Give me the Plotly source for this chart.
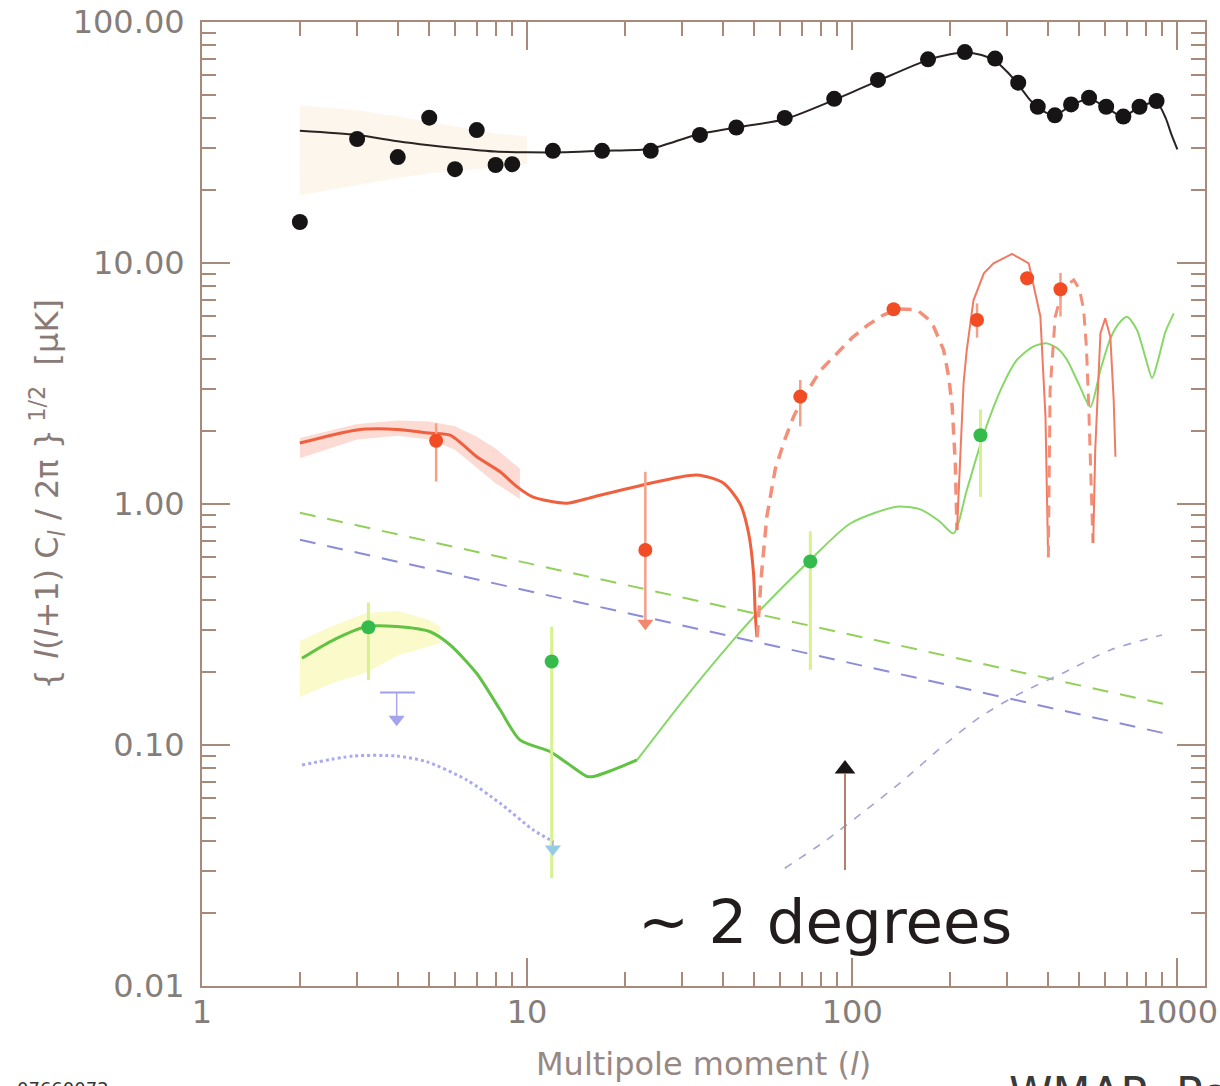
import plotly.graph_objects as go

# ---------------- data ----------------
# TT (black) binned data points
tt_l = [2, 3, 4, 5, 6, 7, 8, 9, 12, 17, 24, 34, 44, 62, 88, 120, 171, 222, 275, 324, 372, 420, 471, 535, 604, 682, 765, 863]
tt_v = [14.8, 32.7, 27.5, 40.1, 24.5, 35.6, 25.5, 25.7, 29.2, 29.2, 29.2, 34.0, 36.5, 40.0, 48.0, 57.5, 70.0, 75.0, 70.5, 56.0, 44.5, 41.0, 45.5, 48.5, 44.5, 40.5, 44.5, 47.0]
# TT model curve
ttm_l = [2, 3, 4, 5, 6, 8, 10, 13, 17, 24, 33, 44, 62, 88, 120, 170, 200, 222, 250, 275, 300, 324, 350, 372, 420, 470, 535, 600, 680, 765, 863, 920, 960, 1000]
ttm_v = [35.4, 34.0, 32.0, 30.8, 30.0, 29.0, 28.8, 28.8, 29.2, 29.8, 34.0, 36.5, 39.5, 47.5, 57.0, 69.5, 73.5, 74.8, 73.0, 69.0, 62.0, 55.0, 48.0, 44.0, 41.0, 45.0, 48.0, 44.5, 40.5, 44.5, 46.5, 40.0, 34.0, 29.6]
# TT cosmic-variance band
ttb_l = [2, 3, 4, 5, 6, 7, 8, 9, 10]
ttb_hi = [45, 43, 40.5, 38.5, 37, 35.5, 34.5, 34, 33.4]
ttb_lo = [19.1, 21, 22.5, 23.5, 24, 24.5, 25, 25.5, 25.8]

# TE (red) model: positive segments (solid) and negative segments (dashed)
te1_l = [2, 3, 4, 5, 5.8, 7, 8.26, 9.3, 10.4, 13.2, 16, 22.7, 33.3, 40.2, 45.2, 48, 49.7, 50.3, 50.9]
te1_v = [1.79, 2.03, 2.04, 1.97, 1.93, 1.57, 1.36, 1.18, 1.07, 1.007, 1.07, 1.2, 1.32, 1.22, 1.0, 0.756, 0.516, 0.352, 0.28]
te2_l = [51, 52.5, 54.6, 58, 62, 66, 70, 80, 88, 100, 111, 125, 140, 158, 170, 178, 191, 198, 203, 205, 207.5, 210]
te2_v = [0.28, 0.5, 0.885, 1.4, 1.85, 2.3, 2.7, 3.6, 4.1, 4.9, 5.5, 6.1, 6.45, 6.4, 5.9, 5.45, 4.35, 3.37, 2.53, 1.9, 1.47, 0.78]
te3_l = [210, 213, 215, 220, 225, 236, 254, 272, 310, 349, 379, 393, 400]
te3_v = [0.78, 1.2, 1.5, 3.17, 4.35, 7.0, 9.06, 9.97, 10.9, 9.97, 6.0, 2.3, 0.64]
te4_l = [401, 403, 406, 421, 445, 480, 500, 515, 525, 533, 542, 550]
te4_v = [0.6, 1.5, 2.97, 5.98, 7.9, 8.5, 7.8, 6.38, 4.5, 2.7, 1.4, 0.69]
te5_l = [551, 559, 580, 600, 622, 637, 645]
te5_v = [0.69, 1.68, 5.12, 5.9, 4.94, 2.7, 1.57]
# TE band (low l)
teb_l = [2, 3, 4, 5, 6, 7, 8, 9.5]
teb_hi = [1.88, 2.15, 2.22, 2.2, 2.1, 1.9, 1.7, 1.4]
teb_lo = [1.55, 1.85, 1.92, 1.85, 1.68, 1.42, 1.22, 1.05]
# TE data points
te_l = [5.25, 23.1, 69.2, 134, 242, 345, 437]
te_v = [1.83, 0.644, 2.79, 6.43, 5.8, 8.64, 7.78]
te_hi = [2.16, 1.36, 3.27, 6.7, 6.8, 9.2, 9.1]
te_lo = [1.24, 0.32, 2.1, 6.2, 4.9, 8.1, 6.0]
te_limit = [False, True, False, False, False, False, False]

# EE (green) model
ee1_l = [2.03, 2.5, 3.21, 3.97, 5.03, 5.8, 7.0, 8.26, 9.5, 11.8, 13.3, 15.3, 16, 18, 21.8]
ee1_v = [0.229, 0.27, 0.31, 0.31, 0.295, 0.26, 0.198, 0.14, 0.105, 0.0937, 0.084, 0.074, 0.074, 0.078, 0.0867]
ee2_l = [21.8, 30.3, 43.1, 52.1, 74.3, 98.6, 137, 162, 185, 205, 225, 254, 290, 321, 360, 397, 430, 458, 500, 540, 580, 620, 660, 700, 750, 800, 836, 870, 920, 975]
ee2_v = [0.0867, 0.154, 0.273, 0.363, 0.586, 0.83, 0.975, 0.95, 0.85, 0.755, 1.14, 1.96, 3.1, 3.96, 4.5, 4.64, 4.4, 3.96, 3.1, 2.53, 3.6, 4.8, 5.6, 5.98, 5.3, 4.0, 3.33, 3.9, 5.2, 6.18]
# EE band (low l)
eeb_l = [2, 2.5, 3.2, 4, 5, 5.4]
eeb_hi = [0.27, 0.31, 0.353, 0.36, 0.33, 0.31]
eeb_lo = [0.158, 0.18, 0.2, 0.235, 0.257, 0.265]
# EE data points
ee_l = [3.25, 11.9, 74.3, 248]
ee_v = [0.308, 0.222, 0.577, 1.93]
ee_hi = [0.39, 0.31, 0.77, 2.47]
ee_lo = [0.186, 0.028, 0.205, 1.07]

# foreground (dashed) lines
fg_green_l = [2, 908]
fg_green_v = [0.92, 0.148]
fg_blue_l = [2, 908]
fg_blue_v = [0.71, 0.112]
# rising dotted-dashed line
noise_l = [62, 82, 110, 144, 189, 248, 329, 452, 622, 897]
noise_v = [0.0308, 0.0397, 0.0537, 0.0716, 0.0985, 0.131, 0.164, 0.201, 0.248, 0.286]
# BB (blue) low-l curve
bb_l = [2.03, 2.92, 3.97, 4.91, 6.52, 8.26, 10.45, 12.05]
bb_v = [0.0826, 0.09, 0.09, 0.0853, 0.0716, 0.0573, 0.0444, 0.0397]
# BB upper limits
bblim_bar_l = [3.53, 4.52]
bblim_bar_v = [0.165, 0.165]
bblim_l = [3.97, 12.0]
bblim_top = [0.165, 0.040]
bblim_v = [0.128, 0.037]

# "~2 degrees" arrow
arrow_l = [95, 95]
arrow_v = [0.0303, 0.076]
arrow_head = [0.0795]

# ---------------- figure ----------------
fig = go.Figure()

def line(x, y, color, width, dash="solid", shape="linear"):
    fig.add_trace(go.Scatter(x=x, y=y, mode="lines",
                             line=dict(color=color, width=width, dash=dash, shape=shape, smoothing=0.7),
                             hoverinfo="skip", showlegend=False))

def band(x, lo, hi, color):
    fig.add_trace(go.Scatter(x=x, y=lo, mode="lines", line=dict(width=0), showlegend=False, hoverinfo="skip"))
    fig.add_trace(go.Scatter(x=x, y=hi, mode="lines", line=dict(width=0), fill="tonexty",
                             fillcolor=color, showlegend=False, hoverinfo="skip"))

# bands
band(ttb_l, ttb_lo, ttb_hi, "rgba(250,228,200,0.32)")
band(teb_l, teb_lo, teb_hi, "rgba(245,170,150,0.42)")
band(eeb_l, eeb_lo, eeb_hi, "rgba(245,245,150,0.5)")

# foreground lines
line(fg_green_l, fg_green_v, "#93d05a", 2, "16px,12px")
line(fg_blue_l, fg_blue_v, "#8c8cd8", 2, "16px,12px")
line(noise_l, noise_v, "#a4a4d4", 1.6, "8px,9px", "spline")

# BB curve
line(bb_l, bb_v, "#aaaaf0", 3, "dot", "spline")

# EE model
line(ee1_l, ee1_v, "#62c244", 3, "solid", "spline")
line(ee2_l, ee2_v, "#88d868", 2, "solid", "spline")

# TE model
line(te1_l, te1_v, "#f0603e", 3, "solid", "spline")
line(te2_l, te2_v, "#f4907a", 3.5, "12px,8px")
line(te3_l, te3_v, "#f07a62", 2)
line(te4_l, te4_v, "#f4907a", 3, "12px,8px")
line(te5_l, te5_v, "#f07a62", 2)

# TT model
line(ttm_l, ttm_v, "#2b2222", 2, "solid", "spline")

# EE points
fig.add_trace(go.Scatter(
    x=ee_l, y=ee_v, mode="markers",
    marker=dict(color="#34bb4c", size=14),
    error_y=dict(type="data", symmetric=False,
                 array=[h - v for h, v in zip(ee_hi, ee_v)],
                 arrayminus=[v - lo for v, lo in zip(ee_v, ee_lo)],
                 color="#d6f28e", thickness=3, width=0),
    showlegend=False, hoverinfo="skip"))

# TE points
fig.add_trace(go.Scatter(
    x=te_l, y=te_v, mode="markers",
    marker=dict(color="#f24c24", size=14),
    error_y=dict(type="data", symmetric=False,
                 array=[h - v for h, v in zip(te_hi, te_v)],
                 arrayminus=[v - lo for v, lo in zip(te_v, te_lo)],
                 color="#f3a088", thickness=2.5, width=0),
    showlegend=False, hoverinfo="skip"))
fig.add_trace(go.Scatter(
    x=[l for l, f in zip(te_l, te_limit) if f], y=[lo for lo, f in zip(te_lo, te_limit) if f],
    mode="markers", marker=dict(symbol="triangle-down", color="#f4886e", size=14),
    showlegend=False, hoverinfo="skip"))

# BB upper limits
line(bblim_bar_l, bblim_bar_v, "#a0a0e6", 2)
for l, t, v in zip(bblim_l, bblim_top, bblim_v):
    line([l, l], [t, v], "#a8a8ea", 1.5)
fig.add_trace(go.Scatter(x=bblim_l, y=bblim_v, mode="markers",
                         marker=dict(symbol="triangle-down", color=["#a4a4ec", "#94cce4"], size=14),
                         showlegend=False, hoverinfo="skip"))

# TT points
fig.add_trace(go.Scatter(x=tt_l, y=tt_v, mode="markers", marker=dict(color="#161414", size=16),
                         showlegend=False, hoverinfo="skip"))

# arrow
line(arrow_l, arrow_v, "#b4806e", 2)
fig.add_trace(go.Scatter(x=[arrow_l[0]], y=arrow_head, mode="markers",
                         marker=dict(symbol="triangle-up", color="#1a1414", size=18),
                         showlegend=False, hoverinfo="skip"))

axcol = "#a88a7a"
font = "DejaVu Sans, Verdana, sans-serif"
tickfont = dict(family=font, size=32, color="#857d7a")

x_minor = [m * d for d in (1, 10, 100) for m in range(2, 10)]
y_minor = [m * d for d in (0.01, 0.1, 1, 10) for m in range(2, 10)]

fig.update_xaxes(type="log", range=[0, 3.085], automargin=False,
                 tickvals=[1, 10, 100, 1000], ticktext=["1", "10", "100", "1000"],
                 ticks="inside", ticklen=28, tickwidth=1.5, tickcolor=axcol,
                 minor=dict(tickvals=x_minor, ticks="inside", ticklen=14, tickwidth=1.5, tickcolor=axcol),
                 showline=True, linecolor=axcol, linewidth=2, mirror="ticks",
                 showgrid=False, zeroline=False, tickfont=tickfont, ticklabelstandoff=-3)
fig.update_yaxes(type="log", range=[-2, 2], automargin=False,
                 tickvals=[0.01, 0.1, 1, 10, 100], ticktext=["0.01", "0.10", "1.00", "10.00", "100.00"],
                 ticks="inside", ticklen=28, tickwidth=1.5, tickcolor=axcol,
                 minor=dict(tickvals=y_minor, ticks="inside", ticklen=14, tickwidth=1.5, tickcolor=axcol),
                 showline=True, linecolor=axcol, linewidth=2, mirror="ticks",
                 showgrid=False, zeroline=False, tickfont=tickfont, ticklabelstandoff=9)

fig.add_annotation(text="Multipole moment (<i>l</i>)", xref="paper", yref="paper", x=0.5, y=-0.0805,
                   xanchor="center", yanchor="middle", showarrow=False,
                   font=dict(family=font, size=32, color="#988884"))
fig.add_annotation(text="{ <i>l</i>(<i>l</i>+1) C<sub><i>l</i></sub> / 2π }<sup> 1/2</sup>  [μK]",
                   xref="paper", yref="paper", x=-0.1545, y=0.51, textangle=-90,
                   xanchor="center", yanchor="middle", showarrow=False,
                   font=dict(family=font, size=32, color="#8a7a76"))
fig.add_annotation(text="~ 2 degrees", xref="paper", yref="paper", x=0.6215, y=0.0664,
                   xanchor="center", yanchor="middle", showarrow=False,
                   font=dict(family=font, size=61, color="#221c1c"))
fig.add_annotation(text="07660072", xref="paper", yref="paper", x=-0.1864, y=-0.0934,
                   xanchor="left", yanchor="top", showarrow=False,
                   font=dict(family=font, size=18, color="#333333"))
fig.add_annotation(text="WMAP: Peiris et al.", xref="paper", yref="paper", x=0.803, y=-0.083,
                   xanchor="left", yanchor="top", showarrow=False,
                   font=dict(family=font, size=44, color="#3a3a3a"))

fig.update_layout(width=1220, height=1086, margin=dict(l=202, r=15, t=22, b=100),
                  paper_bgcolor="white", plot_bgcolor="white", showlegend=False)

fig.write_html("out.html", config={"displayModeBar": False},
               post_script="document.body.style.margin='0px';")
